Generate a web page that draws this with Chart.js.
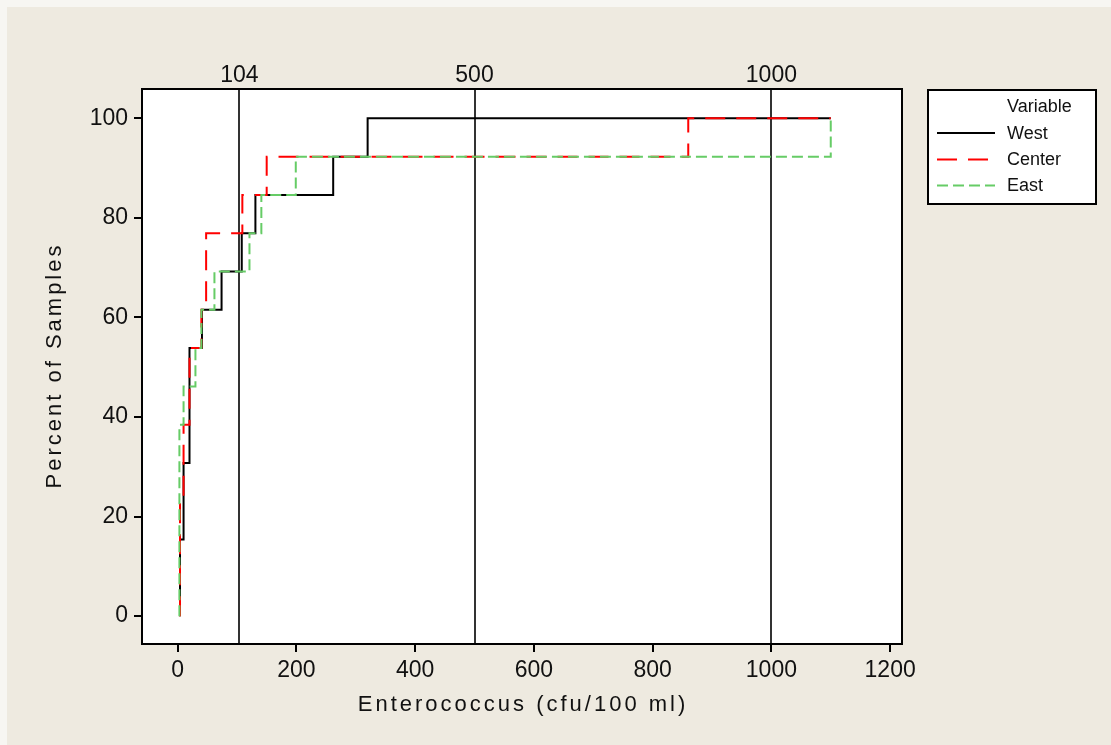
<!DOCTYPE html>
<html>
<head>
<meta charset="utf-8">
<title>Enterococcus cumulative distribution</title>
<script src="https://cdn.jsdelivr.net/npm/chart.js@4.4.1/dist/chart.umd.min.js"></script>
<style>
  html, body { margin: 0; padding: 0; background: #f7f6f2; }
  #wrap { width: 1111px; height: 745px; }
</style>
</head>
<body>
<div id="wrap"><canvas id="cdfChart" width="1111" height="745"></canvas></div>
<script>
// Empirical CDF steps per site: x = Enterococcus (cfu/100 ml), y = cumulative percent of samples
const westX = [4, 4, 10, 20, 41, 74, 108, 131, 262, 320, 1100];
const westPct = [0, 15.38, 30.77, 53.85, 61.54, 69.23, 76.92, 84.62, 92.31, 100, 100];

const centerX = [4, 4, 10, 20, 40, 48, 109, 150, 860, 1100];
const centerPct = [0, 23.08, 38.46, 53.85, 61.54, 76.92, 84.62, 92.31, 100, 100];

const eastX = [3, 3, 10, 30, 40, 62, 121, 141, 199, 1100];
const eastPct = [0, 38.46, 46.15, 53.85, 61.54, 69.23, 76.92, 84.62, 92.31, 100];

const xTicks = [0, 200, 400, 600, 800, 1000, 1200];
const yTicks = [0, 20, 40, 60, 80, 100];
const refLines = [104, 500, 1000];

const FONT = "'Liberation Sans', Arial, sans-serif";
const TEXT = '#111';

function toPoints(xs, ys) {
    return xs.map((x, i) => ({ x: x, y: ys[i] }));
}

// background, plot frame, axis titles and the legend box
const decorations = {
    id: 'decorations',
    beforeDraw(chart) {
        const { ctx, chartArea: a } = chart;
        ctx.save();
        ctx.fillStyle = '#eeeae0';
        ctx.fillRect(7, 7, chart.width - 7, chart.height - 7);
        ctx.fillStyle = '#ffffff';
        ctx.fillRect(a.left, a.top, a.right - a.left, a.bottom - a.top);
        ctx.restore();
    },
    afterDraw(chart) {
        const { ctx, chartArea: a } = chart;
        ctx.save();
        ctx.strokeStyle = '#000';
        ctx.lineWidth = 2;
        ctx.strokeRect(a.left, a.top, a.right - a.left, a.bottom - a.top);

        // axis titles
        ctx.fillStyle = TEXT;
        ctx.font = '22px ' + FONT;
        ctx.letterSpacing = '3px';
        ctx.textAlign = 'center';
        ctx.textBaseline = 'middle';
        ctx.fillText('Enterococcus (cfu/100 ml)', (a.left + a.right) / 2 + 1, 705);
        ctx.translate(55, (a.top + a.bottom) / 2);
        ctx.rotate(-Math.PI / 2);
        ctx.fillText('Percent of Samples', 1, 0);
        ctx.restore();

        // legend
        ctx.save();
        ctx.fillStyle = '#ffffff';
        ctx.fillRect(928, 90, 168, 114);
        ctx.strokeStyle = '#000';
        ctx.lineWidth = 2;
        ctx.strokeRect(928, 90, 168, 114);
        ctx.font = '18px ' + FONT;
        ctx.fillStyle = TEXT;
        ctx.textAlign = 'left';
        ctx.textBaseline = 'middle';
        ctx.fillText('Variable', 1007, 107);
        const rows = [133, 159.5, 185.5];
        chart.data.datasets.forEach((ds, i) => {
            const y = rows[i];
            ctx.beginPath();
            ctx.strokeStyle = ds.borderColor;
            ctx.lineWidth = ds.borderWidth;
            ctx.setLineDash(ds.borderDash || []);
            ctx.moveTo(937, y);
            ctx.lineTo(995, y);
            ctx.stroke();
            ctx.setLineDash([]);
            ctx.fillText(ds.label, 1007, y + 1);
        });
        ctx.restore();
    }
};

const tickFont = { family: FONT, size: 23 };

new Chart(document.getElementById('cdfChart'), {
    type: 'line',
    data: {
        datasets: [
            {
                label: 'West',
                data: toPoints(westX, westPct),
                borderColor: '#000000',
                borderWidth: 2,
                order: 3
            },
            {
                label: 'Center',
                data: toPoints(centerX, centerPct),
                borderColor: '#ff0000',
                borderWidth: 2,
                borderDash: [20, 11],
                order: 2
            },
            {
                label: 'East',
                data: toPoints(eastX, eastPct),
                borderColor: '#66cc66',
                borderWidth: 2,
                borderDash: [11, 5],
                order: 1
            }
        ]
    },
    options: {
        responsive: false,
        animation: false,
        layout: { padding: { left: 0, top: 0, right: 209, bottom: 0 } },
        elements: {
            line: { stepped: 'before', tension: 0, fill: false },
            point: { radius: 0 }
        },
        plugins: {
            legend: { display: false },
            tooltip: { enabled: false }
        },
        scales: {
            x: {
                type: 'linear',
                position: 'bottom',
                min: -60,
                max: 1220,
                afterBuildTicks: s => { s.ticks = xTicks.map(v => ({ value: v })); },
                afterFit: s => { s.height = 101; },
                grid: { drawOnChartArea: false, drawTicks: true, tickLength: 8, color: '#000', lineWidth: 2 },
                border: { display: true, color: '#000', width: 2 },
                ticks: { color: TEXT, font: tickFont, padding: 5, maxRotation: 0, autoSkip: false, callback: v => String(v) }
            },
            x2: {
                type: 'linear',
                position: 'top',
                min: -60,
                max: 1220,
                afterBuildTicks: s => { s.ticks = refLines.map(v => ({ value: v })); },
                afterFit: s => { s.height = 89; },
                grid: { drawOnChartArea: true, drawTicks: false, color: '#333', lineWidth: 2 },
                border: { display: true, color: '#000', width: 2 },
                ticks: { color: TEXT, font: tickFont, padding: 0, maxRotation: 0, autoSkip: false, callback: v => String(v) }
            },
            y: {
                type: 'linear',
                min: -5.6,
                max: 105.9,
                afterBuildTicks: s => { s.ticks = yTicks.map(v => ({ value: v })); },
                afterFit: s => { s.width = 142; },
                grid: { drawOnChartArea: false, drawTicks: true, tickLength: 8, color: '#000', lineWidth: 2 },
                border: { display: true, color: '#000', width: 2 },
                ticks: { color: TEXT, font: tickFont, padding: 6, callback: v => String(v) }
            }
        }
    },
    plugins: [decorations]
});
</script>
</body>
</html>
